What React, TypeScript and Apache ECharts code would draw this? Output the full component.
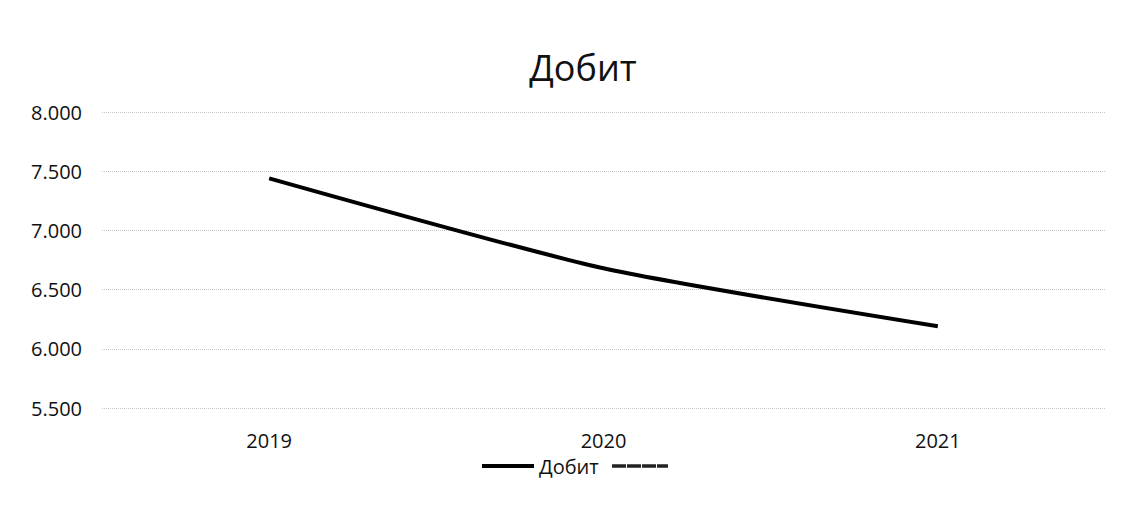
import React, { useEffect, useRef } from "react";
import * as echarts from "echarts";

const categories = ["2019", "2020", "2021"];
const values = [7440, 6680, 6190];
const seriesName = "Добит";
const yMin = 5500;
const yMax = 8000;
const yInterval = 500;

const FONT = "'Open Sans', 'Noto Sans', sans-serif";

export default function App() {
  const ref = useRef<HTMLDivElement>(null);
  useEffect(() => {
    const chart = echarts.init(ref.current!, null, { renderer: "svg" });
    chart.setOption({
      animation: false,
      backgroundColor: "#fff",
      title: {
        text: seriesName,
        left: 578,
        top: 44,
        textAlign: "center",
        textStyle: { fontFamily: FONT, fontSize: 36, fontWeight: "normal", color: "#111" },
      },
      grid: { left: 102, right: 19, top: 112, bottom: 122 },
      xAxis: {
        type: "category",
        data: categories,
        boundaryGap: true,
        axisLine: { show: false },
        axisTick: { show: false },
        axisLabel: { fontFamily: FONT, fontSize: 20, color: "#111", margin: 22 },
      },
      yAxis: {
        type: "value",
        min: yMin,
        max: yMax,
        interval: yInterval,
        axisLine: { show: false },
        axisTick: { show: false },
        axisLabel: {
          fontFamily: FONT,
          fontSize: 20,
          color: "#111",
          margin: 20,
          formatter: (v: number) => {
            const s = String(v);
            return s.slice(0, s.length - 3) + "." + s.slice(s.length - 3);
          },
        },
        splitLine: { lineStyle: { type: "dotted", color: "#c8c8c8", width: 1 } },
      },
      legend: {
        left: 477,
        top: 451,
        orient: "horizontal",
        itemWidth: 52,
        itemHeight: 4,
        itemGap: 6,
        icon: "rect",
        textStyle: { fontFamily: FONT, fontSize: 20, color: "#111" },
        data: [seriesName],
      },
      graphic: [
        {
          type: "line",
          shape: { x1: 612, y1: 466, x2: 668, y2: 466 },
          style: { stroke: "#222", lineWidth: 3.5, lineDash: [14, 1] },
        },
      ],
      series: [
        {
          name: seriesName,
          type: "line",
          data: values,
          smooth: 0.2,
          symbol: "none",
          lineStyle: { color: "#000", width: 4 },
          itemStyle: { color: "#000" },
        },
      ],
    });
    return () => chart.dispose();
  }, []);
  return (
    <div
      ref={ref}
      style={{ position: "absolute", left: 0, top: 0, width: 1124, height: 530 }}
    />
  );
}
